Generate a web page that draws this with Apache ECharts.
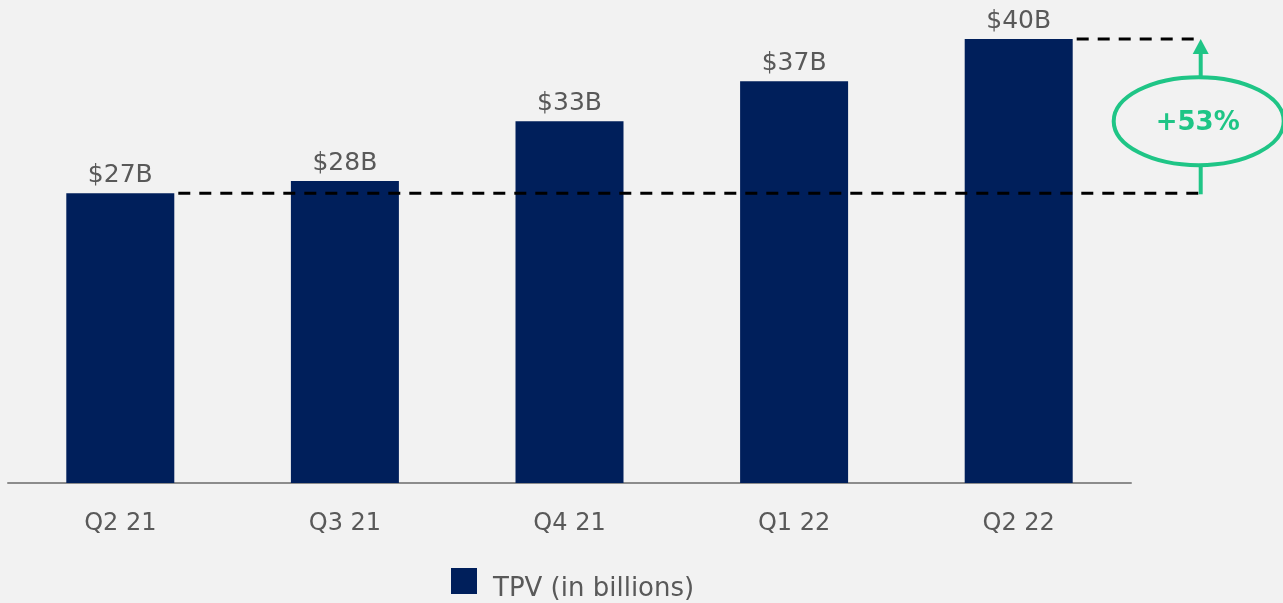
<!DOCTYPE html>
<html>
<head>
<meta charset="utf-8">
<script src="https://cdn.jsdelivr.net/npm/echarts@6/dist/echarts.min.js"></script>
<style>
html,body{margin:0;padding:0;background:#f2f2f2;}
#chart{width:1283px;height:603px;}
</style>
</head>
<body>
<div id="chart"></div>
<script>
const categories = ['Q2 21', 'Q3 21', 'Q4 21', 'Q1 22', 'Q2 22'];
const tpv = [26.1, 27.2, 32.6, 36.2, 40.0];
const valueLabels = ['$27B', '$28B', '$33B', '$37B', '$40B'];
const seriesName = 'TPV (in billions)';
const growthLabel = '+53%';

const FONT = 'DejaVu Sans';
const NAVY = '#001f5b';
const GREEN = '#1fc586';
const TEXT = '#595959';
const BAR_W = 108;

const chart = echarts.init(document.getElementById('chart'));
chart.setOption({
  backgroundColor: '#f2f2f2',
  animation: false,
  grid: {left: 8, right: 152, top: 39, bottom: 120, containLabel: false},
  legend: {
    data: [{name: seriesName, icon: 'rect'}],
    left: 451, top: 568, padding: 0,
    itemWidth: 26, itemHeight: 26,
    formatter: name => '{t|' + name + '}',
    textStyle: {
      fontFamily: FONT, fontSize: 26, color: TEXT,
      rich: {t: {fontFamily: FONT, fontSize: 26, color: TEXT, padding: [16, 0, 0, 11]}}
    }
  },
  xAxis: {
    type: 'category',
    data: categories,
    axisLine: {lineStyle: {color: '#8c8c8c', width: 2}},
    axisTick: {show: false},
    axisLabel: {fontFamily: FONT, fontSize: 24, color: TEXT, margin: 29}
  },
  yAxis: {type: 'value', min: 0, max: 40, show: false, splitLine: {show: false}},
  series: [{
    name: seriesName,
    type: 'bar',
    data: tpv,
    barWidth: BAR_W,
    itemStyle: {color: NAVY},
    label: {
      show: true, position: 'top', distance: 5,
      fontFamily: FONT, fontSize: 25, color: TEXT,
      formatter: p => valueLabels[p.dataIndex]
    }
  }]
});

function drawAnnotation() {
  const yLow = chart.convertToPixel({yAxisIndex: 0}, tpv[0]);
  const yHigh = chart.convertToPixel({yAxisIndex: 0}, tpv[tpv.length - 1]);
  const xFirstRight = chart.convertToPixel({xAxisIndex: 0}, categories[0]) + BAR_W / 2;
  const xLastRight = chart.convertToPixel({xAxisIndex: 0}, categories[categories.length - 1]) + BAR_W / 2;
  const ax = xLastRight + 128;
  const cy = (yLow + yHigh) / 2 + 5;
  const rx = 85, ry = 44;
  const dash = {stroke: '#000', lineWidth: 3, lineDash: [12, 9]};
  chart.setOption({
    graphic: [
      {type: 'line', shape: {x1: xFirstRight + 4, y1: yLow, x2: ax, y2: yLow}, style: dash, z: 10},
      {type: 'line', shape: {x1: xLastRight + 4, y1: yHigh, x2: ax, y2: yHigh}, style: dash, z: 10},
      {type: 'line', shape: {x1: ax, y1: yLow + 1, x2: ax, y2: cy + ry}, style: {stroke: GREEN, lineWidth: 4}, z: 11},
      {type: 'line', shape: {x1: ax, y1: cy - ry, x2: ax, y2: yHigh + 14}, style: {stroke: GREEN, lineWidth: 4}, z: 11},
      {type: 'polygon', shape: {points: [[ax, yHigh], [ax - 8, yHigh + 15], [ax + 8, yHigh + 15]]}, style: {fill: GREEN}, z: 11},
      {type: 'ellipse', shape: {cx: ax - 2, cy: cy, rx: rx, ry: ry}, style: {fill: '#f2f2f2', stroke: GREEN, lineWidth: 4}, z: 12},
      {type: 'text', x: ax - 3, y: cy + 2, style: {text: growthLabel, fill: GREEN, font: 'bold 26px "' + FONT + '"', align: 'center', verticalAlign: 'middle'}, z: 13}
    ]
  });
}
drawAnnotation();
</script>
</body>
</html>
